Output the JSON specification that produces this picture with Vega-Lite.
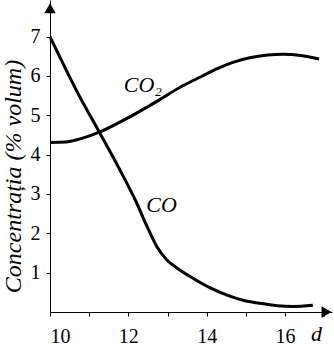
{
  "$schema": "https://vega.github.io/schema/vega-lite/v6.json",
  "width": 282,
  "height": 312,
  "padding": {"left": 50, "top": 0, "right": 2, "bottom": 33},
  "autosize": {"type": "none"},
  "background": "white",
  "config": {
    "view": {"stroke": null},
    "font": "Times New Roman, Liberation Serif, serif",
    "axis": {"grid": false, "domainColor": "black", "tickColor": "black", "labelColor": "black", "titleColor": "black", "labelFont": "Times New Roman, Liberation Serif, serif", "titleFont": "Times New Roman, Liberation Serif, serif", "labelFontSize": 20, "domainWidth": 1, "tickWidth": 1}
  },
  "datasets": {
    "curves": [
      {"series": "CO", "d": 10.0, "c": 7.0},
      {"series": "CO", "d": 10.77, "c": 5.45},
      {"series": "CO", "d": 11.26, "c": 4.57},
      {"series": "CO", "d": 11.79, "c": 3.6},
      {"series": "CO", "d": 12.18, "c": 2.84},
      {"series": "CO", "d": 12.48, "c": 2.17},
      {"series": "CO", "d": 12.73, "c": 1.66},
      {"series": "CO", "d": 12.98, "c": 1.33},
      {"series": "CO", "d": 13.24, "c": 1.12},
      {"series": "CO", "d": 13.65, "c": 0.86},
      {"series": "CO", "d": 14.08, "c": 0.62},
      {"series": "CO", "d": 14.52, "c": 0.43},
      {"series": "CO", "d": 14.93, "c": 0.3},
      {"series": "CO", "d": 15.36, "c": 0.22},
      {"series": "CO", "d": 15.8, "c": 0.16},
      {"series": "CO", "d": 16.2, "c": 0.14},
      {"series": "CO", "d": 16.71, "c": 0.17},
      {"series": "CO2", "d": 10.0, "c": 4.31},
      {"series": "CO2", "d": 10.4, "c": 4.32},
      {"series": "CO2", "d": 10.77, "c": 4.4},
      {"series": "CO2", "d": 11.26, "c": 4.57},
      {"series": "CO2", "d": 11.87, "c": 4.87},
      {"series": "CO2", "d": 12.74, "c": 5.36},
      {"series": "CO2", "d": 13.3, "c": 5.7},
      {"series": "CO2", "d": 13.85, "c": 5.98},
      {"series": "CO2", "d": 14.3, "c": 6.2},
      {"series": "CO2", "d": 14.69, "c": 6.35},
      {"series": "CO2", "d": 15.1, "c": 6.46},
      {"series": "CO2", "d": 15.56, "c": 6.53},
      {"series": "CO2", "d": 15.95, "c": 6.55},
      {"series": "CO2", "d": 16.4, "c": 6.52},
      {"series": "CO2", "d": 16.87, "c": 6.43}
    ],
    "labels": [
      {"text": "CO₂", "d": 12.37, "c": 5.76},
      {"text": "CO", "d": 12.85, "c": 2.71}
    ],
    "arrowUp": [{"d": 10.0, "c": 7.72}],
    "arrowRight": [{"d": 17.06, "c": 0.0}]
  },
  "layer": [
    {
      "data": {"name": "curves"},
      "mark": {"type": "line", "interpolate": "monotone", "color": "black", "strokeWidth": 3},
      "encoding": {
        "x": {"field": "d", "type": "quantitative", "scale": {"domain": [10, 17.2], "nice": false, "zero": false},
          "axis": {"values": [10, 11, 12, 13, 14, 15, 16, 17], "labelExpr": "datum.value % 2 == 0 && datum.value < 17 ? datum.label : ''", "tickSize": 4, "labelPadding": 10, "title": "d", "titleFontStyle": "italic", "titleFontWeight": "normal", "titleFontSize": 22, "titleAnchor": "start", "titleAlign": "center", "titleX": 266, "titleY": 28, "titleBaseline": "alphabetic"}},
        "y": {"field": "c", "type": "quantitative", "scale": {"domain": [0, 7.93], "nice": false},
          "axis": {"values": [1, 2, 3, 4, 5, 6, 7], "tickSize": 4, "labelPadding": 6, "title": "Concentrația (% volum)", "titleFontStyle": "italic", "titleFontWeight": "normal", "titleFontSize": 24, "titleX": -49, "titleY": 176, "titleAnchor": "middle", "titleAlign": "center", "titleBaseline": "top"}},
        "detail": {"field": "series"}
      }
    },
    {
      "data": {"name": "labels"},
      "mark": {"type": "text", "font": "Times New Roman, Liberation Serif, serif", "fontStyle": "italic", "fontSize": 22, "color": "black", "align": "center", "baseline": "middle"},
      "encoding": {
        "x": {"field": "d", "type": "quantitative"},
        "y": {"field": "c", "type": "quantitative"},
        "text": {"field": "text"}
      }
    },
    {
      "data": {"name": "arrowUp"},
      "mark": {"type": "point", "shape": "triangle-up", "filled": true, "color": "black", "opacity": 1, "size": 130},
      "encoding": {
        "x": {"field": "d", "type": "quantitative"},
        "y": {"field": "c", "type": "quantitative"}
      }
    },
    {
      "data": {"name": "arrowRight"},
      "mark": {"type": "point", "shape": "triangle-right", "filled": true, "color": "black", "opacity": 1, "size": 130},
      "encoding": {
        "x": {"field": "d", "type": "quantitative"},
        "y": {"field": "c", "type": "quantitative"}
      }
    }
  ]
}
